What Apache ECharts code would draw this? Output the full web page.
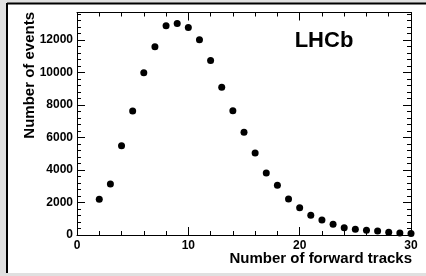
<!DOCTYPE html>
<html>
<head>
<meta charset="utf-8">
<script src="https://cdn.jsdelivr.net/npm/echarts@6/dist/echarts.min.js"></script>
<style>
html,body{margin:0;padding:0;background:#e0e0e0;}
#c{width:426px;height:276px;}
</style>
</head>
<body>
<div id="c"></div>
<script>
var tracks = [2,3,4,5,6,7,8,9,10,11,12,13,14,15,16,17,18,19,20,21,22,23,24,25,26,27,28,29,30];
var events = [2200,3140,5500,7630,9990,11590,12880,13030,12780,12020,10750,9090,7650,6320,5050,3815,3060,2215,1680,1210,920,660,450,350,290,240,170,120,100];
var xTitle = 'Number of forward tracks';
var yTitle = 'Number of events';
var label = 'LHCb';

var FONT = '"Liberation Sans", Arial, Helvetica, sans-serif';
var chart = echarts.init(document.getElementById('c'), null, {renderer:'canvas'});
var data = tracks.map(function(t,i){return [t, events[i]];});

function axisBase(show){
  return {
    axisLine:{show:true, onZero:false, lineStyle:{color:'#000', width:1}},
    axisTick:{show:true, inside:true, length:8, lineStyle:{color:'#000', width:1}},
    minorTick:{show:true, splitNumber:5, length:4, lineStyle:{color:'#000', width:1}},
    splitLine:{show:false},
    axisLabel:{show:show, color:'#000', fontFamily:FONT, fontWeight:'bold', fontSize:12, showMaxLabel:false,
      formatter:function(v){return String(v);}}
  };
}

var xB = Object.assign({type:'value', min:0, max:30, interval:10, position:'bottom'}, axisBase(true));
xB.axisLabel.margin = 5;
xB.axisLabel.showMaxLabel = true;
var xT = Object.assign({type:'value', min:0, max:30, interval:10, position:'top'}, axisBase(false));
var yL = Object.assign({type:'value', min:0, max:13700, interval:2000, position:'left'}, axisBase(true));
yL.axisLabel.margin = 4;
var yR = Object.assign({type:'value', min:0, max:13700, interval:2000, position:'right'}, axisBase(false));

chart.setOption({
  animation:false,
  backgroundColor:'#e0e0e0',
  grid:{left:77, right:15, top:12.5, bottom:41, show:false},
  graphic:[
    {type:'rect', z:-10, shape:{x:7, y:3, width:419, height:270}, style:{fill:'#ffffff'}},
    {type:'line', z:-5, shape:{x1:7, y1:3, x2:7, y2:273}, style:{stroke:'#000', lineWidth:2}},
    {type:'line', z:-5, shape:{x1:7, y1:3.5, x2:426, y2:3.5}, style:{stroke:'#000', lineWidth:2}},
    {type:'text', x:412, y:266, style:{text:xTitle, fill:'#000', font:'bold 15px ' + FONT, textAlign:'right', textVerticalAlign:'bottom'}},
    {type:'text', x:30, y:12, rotation:Math.PI/2, style:{text:yTitle, fill:'#000', font:'bold 15px ' + FONT, textAlign:'right', textVerticalAlign:'middle'}},
    {type:'text', x:324, y:41, style:{text:label, fill:'#000', font:'bold 22px ' + FONT, textAlign:'center', textVerticalAlign:'middle'}}
  ],
  xAxis:[xB, xT],
  yAxis:[yL, yR],
  series:[{
    type:'scatter', xAxisIndex:0, yAxisIndex:0,
    data:data, symbol:'circle', symbolSize:7,
    itemStyle:{color:'#000', opacity:1}
  }]
});
</script>
</body>
</html>
